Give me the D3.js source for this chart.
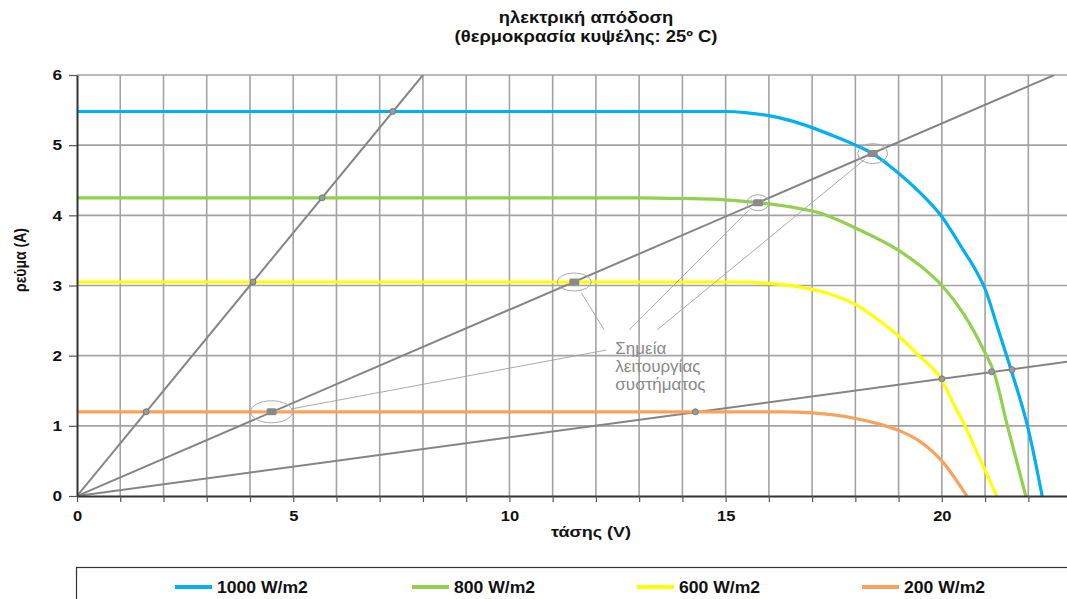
<!DOCTYPE html>
<html><head><meta charset="utf-8">
<script src="https://cdn.jsdelivr.net/npm/d3@7"></script>
<style>
html,body{margin:0;padding:0;background:#fff;}
svg{display:block;font-family:"Liberation Sans",Arial,sans-serif;}
</style></head>
<body>
<svg id="chart" width="1067" height="599"></svg>
<script>
// ---------- data ----------
const titleLines = ["ηλεκτρική απόδοση", "(θερμοκρασία κυψέλης: 25º C)"];
const xLabel = "τάσης (V)";
const yLabel = "ρεύμα (A)";
const xTickLabels = [0, 5, 10, 15, 20];
const yTickLabels = [0, 1, 2, 3, 4, 5, 6];
const seriesNames = ["1000 W/m2", "800 W/m2", "600 W/m2", "200 W/m2"];

const v1000 = [0, 15, 15.5, 16, 16.5, 17, 17.5, 18, 18.4, 19, 19.5, 20, 20.5, 20.8, 21, 21.3, 21.6, 22, 22.32];
const i1000 = [5.48, 5.48, 5.46, 5.42, 5.35, 5.25, 5.13, 5.0, 4.88, 4.6, 4.32, 3.98, 3.5, 3.2, 2.95, 2.38, 1.8, 0.95, 0];
const v800 = [0, 13, 14, 15, 15.75, 16.5, 17.2, 18, 19, 19.5, 20, 20.5, 21, 21.2, 21.5, 21.94];
const i800 = [4.25, 4.25, 4.24, 4.22, 4.18, 4.12, 4.03, 3.82, 3.5, 3.28, 3.0, 2.6, 2.04, 1.77, 1.04, 0];
const v600 = [0, 15.3, 16, 16.7, 17.5, 18, 18.55, 19, 19.47, 19.97, 20.3, 20.55, 20.9, 21.27];
const i600 = [3.05, 3.05, 3.03, 2.98, 2.86, 2.73, 2.5, 2.28, 2.0, 1.68, 1.28, 0.98, 0.5, 0];
const v200 = [0, 16.3, 17, 17.5, 18, 18.5, 19, 19.5, 19.8, 20.05, 20.3, 20.58];
const i200 = [1.2, 1.2, 1.185, 1.155, 1.105, 1.035, 0.935, 0.775, 0.625, 0.465, 0.255, 0];

// load lines through the origin (slope = 1/R, A per V)
const loadSlopes = [0.75, 0.2655, 0.0835];

// operating points
const steepPointsV = [1.6, 4.07, 5.67, 7.3];
const steepPointsI = [1.2, 3.05, 4.25, 5.48];
const midPointsV = [4.5, 11.5, 15.75, 18.4];
const midPointsI = [1.2, 3.05, 4.18, 4.88];
const shallowPointsV = [14.3, 20.0, 21.15, 21.62];
const shallowPointsI = [1.2, 1.67, 1.77, 1.8];

const noteLines = ["Σημεία", "λειτουργίας", "συστήματος"];

// ---------- layout / style ----------
const colors = ["#00b0f0", "#92d050", "#ffff00", "#f9a25e"];
const seriesV = [v1000, v800, v600, v200];
const seriesI = [i1000, i800, i600, i200];

const svg = d3.select("#chart");
const x = d3.scaleLinear().domain([0, 23.75]).range([77, 1104]);
const y = d3.scaleLinear().domain([0, 6]).range([496, 75]);
const W = 1067;

svg.append("defs").append("clipPath").attr("id", "plotclip")
  .append("rect").attr("x", x(0)).attr("y", y(6)).attr("width", x(23.75) - x(0)).attr("height", y(0) - y(6));

function stretchedText(parent, tx, ty, sx, txt, size, weight, fill, anchor) {
  const g = parent.append("g").attr("transform", `translate(${tx},${ty}) scale(${sx},1)`);
  g.append("text").attr("text-anchor", anchor || "start").attr("font-size", size)
    .attr("font-weight", weight).attr("fill", fill).text(txt);
  return g;
}

// title
titleLines.forEach((t, i) => stretchedText(svg, 586, 23 + i * 19, 1.15, t, 16, "bold", "#111", "middle"));

// gridlines
const grid = svg.append("g");
grid.selectAll("line.v").data(d3.range(1, 24)).join("line")
  .attr("x1", d => x(d)).attr("x2", d => x(d)).attr("y1", y(0)).attr("y2", y(6))
  .attr("stroke", "#a3a3a3").attr("stroke-width", 1.6);
grid.selectAll("line.h").data(d3.range(1, 7)).join("line")
  .attr("x1", x(0)).attr("x2", W).attr("y1", d => y(d)).attr("y2", d => y(d))
  .attr("stroke", "#a3a3a3").attr("stroke-width", 1.6);

const plot = svg.append("g").attr("clip-path", "url(#plotclip)");

// load lines
plot.selectAll("line.load").data(loadSlopes).join("line")
  .attr("x1", x(0)).attr("y1", y(0))
  .attr("x2", d => x(Math.min(23.75, 6 / d))).attr("y2", d => y(Math.min(23.75, 6 / d) * d))
  .attr("stroke", "#858585").attr("stroke-width", 2);

// curves
const lineGen = d3.line().x(d => x(d[0])).y(d => y(d[1])).curve(d3.curveMonotoneX);
seriesV.forEach((vs, k) => {
  const pts = vs.map((v, j) => [v, seriesI[k][j]]);
  plot.append("path").datum(pts).attr("d", lineGen)
    .attr("fill", "none").attr("stroke", colors[k]).attr("stroke-width", 3.2);
});

// small point markers
const dotPts = steepPointsV.map((v, j) => [v, steepPointsI[j]])
  .concat(shallowPointsV.map((v, j) => [v, shallowPointsI[j]]));
plot.selectAll("circle.dot").data(dotPts).join("circle")
  .attr("cx", d => x(d[0])).attr("cy", d => y(d[1])).attr("r", 3)
  .attr("fill", "#9a9a9a").attr("stroke", "#7a7a7a").attr("stroke-width", 1);

// highlighted points on the middle line
const midPts = midPointsV.map((v, j) => [v, midPointsI[j]]);
const ellR = [[21, 11], [17, 9], [11, 8], [15, 10]];
plot.selectAll("ellipse.hl").data(midPts).join("ellipse")
  .attr("cx", d => x(d[0])).attr("cy", d => y(d[1]))
  .attr("rx", (d, j) => ellR[j][0]).attr("ry", (d, j) => ellR[j][1])
  .attr("fill", "none").attr("stroke", "#a8a8a8").attr("stroke-width", 1);
plot.selectAll("rect.hl").data(midPts).join("rect")
  .attr("x", d => x(d[0]) - 5).attr("y", d => y(d[1]) - 3.5)
  .attr("width", 10).attr("height", 7).attr("rx", 1.5)
  .attr("fill", "#8a8a8a");

// annotation text + leaders
const noteX = 12.45, noteY = 2.11;
svg.append("g").selectAll("text").data(noteLines).join("text")
  .attr("x", x(noteX)).attr("y", (d, i) => y(noteY) + 6 + i * 18)
  .attr("font-size", 17).attr("fill", "#888").text(d => d);

const leaderStarts = [[12.19, 2.37], [12.77, 2.37], [13.42, 2.37], [12.24, 2.08]];
const leaderEnds = [[11.66, 2.9], [15.55, 4.08], [18.22, 4.8], [4.95, 1.24]];
svg.append("g").selectAll("line").data(leaderStarts).join("line")
  .attr("x1", d => x(d[0])).attr("y1", d => y(d[1]))
  .attr("x2", (d, j) => x(leaderEnds[j][0])).attr("y2", (d, j) => y(leaderEnds[j][1]))
  .attr("stroke", "#a0a0a0").attr("stroke-width", 0.9);

// axes
const xAxis = svg.append("g").attr("transform", `translate(0,${y(0)})`)
  .call(d3.axisBottom(x).tickValues(d3.range(0, 24)).tickSize(6).tickSizeOuter(0)
    .tickFormat(d => xTickLabels.includes(d) ? d : ""));
xAxis.select(".domain").attr("stroke", "#333").attr("stroke-width", 2);
xAxis.selectAll(".tick line").attr("stroke", "#555").attr("stroke-width", 1.2);
xAxis.selectAll(".tick text").attr("font-size", 15).attr("font-weight", "bold").attr("fill", "#111")
  .attr("font-family", "Liberation Sans, Arial, sans-serif").attr("dy", "1.1em")
  .attr("transform", "scale(1.1,1)");

const yAxis = svg.append("g").attr("transform", `translate(${x(0)},0)`)
  .call(d3.axisLeft(y).tickValues(yTickLabels).tickSize(8).tickSizeOuter(0).tickFormat(d3.format("d")));
yAxis.select(".domain").attr("stroke", "#333").attr("stroke-width", 2);
yAxis.selectAll(".tick line").attr("stroke", "#555").attr("stroke-width", 1.2);
yAxis.selectAll(".tick text").attr("font-size", 15).attr("font-weight", "bold").attr("fill", "#111")
  .attr("font-family", "Liberation Sans, Arial, sans-serif").attr("x", -15 / 1.15)
  .attr("transform", "scale(1.15,1)");

// axis titles
stretchedText(svg, 591, 537, 1.2, xLabel, 15, "bold", "#111", "middle");
svg.append("text").attr("transform", "translate(26,260) rotate(-90) scale(1,1.2)").attr("text-anchor", "middle")
  .attr("font-size", 14).attr("font-weight", "bold").attr("fill", "#111").text(yLabel);

// legend
const legendX = [175, 412, 637, 862];
svg.append("rect").attr("x", 76.5).attr("y", 567.5).attr("width", 1060).attr("height", 60)
  .attr("fill", "#fff").attr("stroke", "#333").attr("stroke-width", 1.2);
const leg = svg.append("g").selectAll("g").data(seriesNames).join("g")
  .attr("transform", (d, i) => `translate(${legendX[i]},587)`);
leg.append("line").attr("x1", 0).attr("x2", 37).attr("stroke", (d, i) => colors[i]).attr("stroke-width", 4);
leg.append("text").attr("x", 42 / 1.1).attr("y", 6).attr("font-size", 16).attr("font-weight", "bold")
  .attr("transform", "scale(1.1,1)").attr("fill", "#111").text(d => d);
</script>
</body></html>
